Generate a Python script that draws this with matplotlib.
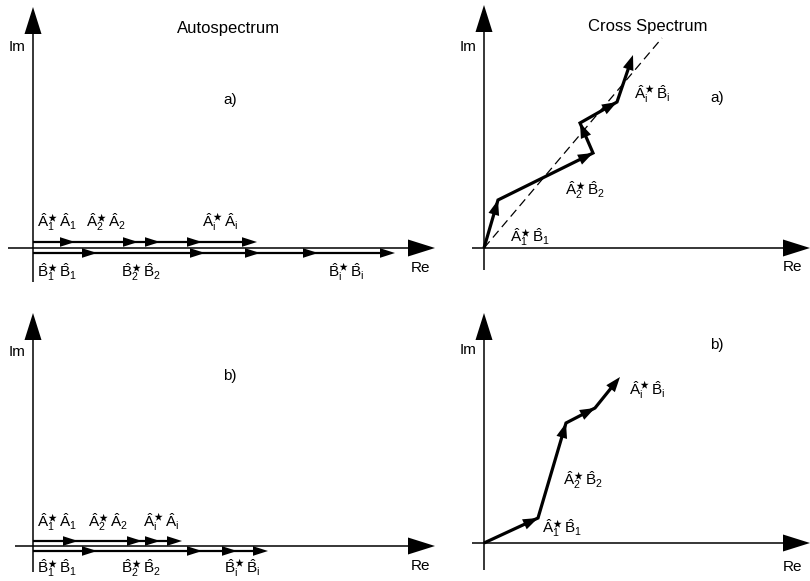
import numpy as np
import matplotlib
matplotlib.use("Agg")
import matplotlib.pyplot as plt

plt.rcParams['font.family'] = ['Liberation Sans', 'DejaVu Sans']
plt.rcParams['mathtext.fontset'] = 'custom'
plt.rcParams['mathtext.rm'] = 'Liberation Sans'
plt.rcParams['mathtext.it'] = 'Liberation Sans:italic'
plt.rcParams['mathtext.sf'] = 'Liberation Sans'

# autospectrum: successive lengths of the A*A and B*B contributions (all real)
auto_a_AA = [42, 63, 22, 42, 55]
auto_a_BB = [64, 108, 55, 58, 77]
auto_b_AA = [45, 64, 18, 22]
auto_b_BB = [64, 105, 35, 31]

# cross spectrum: successive A*B contributions (Re, Im)
cross_a_re = [14, 95, -13, 37, 16]
cross_a_im = [48, 47, 30, 21, 47]
cross_b_re = [54, 28, 29, 25]
cross_b_im = [25, 95, 15, 31]

# direction of the average phase (dashed line) in panel a)
phase_re, phase_im = 178, 210

W, H = 810, 581
fig = plt.figure(figsize=(W / 100, H / 100), dpi=100)
ax = fig.add_axes([0, 0, 1, 1])
ax.set_xlim(0, W)
ax.set_ylim(H, 0)
ax.axis('off')

fs = 11       # vector labels, axis names
fs_t = 12     # panel titles


def head(p0, p1, hl, hw):
    # filled triangle with its tip at p1, sizes in pixels (1 data unit = 1 px)
    p0 = np.asarray(p0, float)
    p1 = np.asarray(p1, float)
    d = p1 - p0
    u = d / np.hypot(*d)
    n = np.array([-u[1], u[0]])
    base = p1 - hl * u
    tri = np.array([p1, base + hw * n, base - hw * n])
    ax.fill(tri[:, 0], tri[:, 1], color='black', lw=0, zorder=3)
    return p1 - 0.5 * hl * u


def chain(pts, lw, hl, hw):
    # continuous polyline through the vertices, an arrow head at each vertex
    pts = np.asarray(pts, float)
    end = head(pts[-2], pts[-1], hl, hw)
    for i in range(1, len(pts) - 1):
        head(pts[i - 1], pts[i], hl, hw)
    line = np.vstack([pts[:-1], end])
    ax.plot(line[:, 0], line[:, 1], color='black', lw=lw,
            solid_capstyle='butt', solid_joinstyle='miter')


def axes_cross(ox, oy, x0, x1, ytop, ybot):
    # Re axis and Im axis with big arrow heads
    chain([(x0, oy), (x1, oy)], 1.1, 27, 8.5)
    chain([(ox, ybot), (ox, ytop)], 1.1, 27, 8.5)


def chain_real(ox, oy, lengths):
    xs = ox + np.concatenate([[0], np.cumsum(lengths)])
    chain([(x, oy) for x in xs], 1.6, 15, 4.8)


def chain_complex(ox, oy, re, im):
    xs = ox + np.concatenate([[0], np.cumsum(re)])
    ys = oy - np.concatenate([[0], np.cumsum(im)])
    chain(list(zip(xs, ys)), 2.3, 15, 5.5)


def lab(x, y, a, b, k):
    s = (r'$\hat{\mathrm{%s}}_{\mathrm{%s}}^{\bigstar}\,\hat{\mathrm{%s}}_{\mathrm{%s}}$'
         % (a, k, b, k))
    ax.text(x, y, s, ha='center', va='center', fontsize=fs)


# ---- Autospectrum a)
axes_cross(33, 248, 8, 435, 7, 282)
chain_real(33, 242, auto_a_AA)
chain_real(33, 253, auto_a_BB)
ax.text(229, 28, 'Autospectrum', ha='center', va='center', fontsize=fs_t)
ax.text(230, 100, 'a)', ha='center', va='center', fontsize=fs)
ax.text(17, 47, 'Im', ha='center', va='center', fontsize=fs)
ax.text(421, 268, 'Re', ha='center', va='center', fontsize=fs)
lab(57, 222, 'A', 'A', '1')
lab(106, 222, 'A', 'A', '2')
lab(220, 222, 'A', 'A', 'i')
lab(57, 272, 'B', 'B', '1')
lab(141, 272, 'B', 'B', '2')
lab(346, 272, 'B', 'B', 'i')

# ---- Autospectrum b)
axes_cross(33, 546, 15, 435, 313, 572)
chain_real(33, 541, auto_b_AA)
chain_real(33, 551, auto_b_BB)
ax.text(230, 376, 'b)', ha='center', va='center', fontsize=fs)
ax.text(17, 352, 'Im', ha='center', va='center', fontsize=fs)
ax.text(421, 566, 'Re', ha='center', va='center', fontsize=fs)
lab(57, 522, 'A', 'A', '1')
lab(108, 522, 'A', 'A', '2')
lab(161, 522, 'A', 'A', 'i')
lab(57, 568, 'B', 'B', '1')
lab(141, 568, 'B', 'B', '2')
lab(242, 568, 'B', 'B', 'i')

# ---- Cross spectrum a)
axes_cross(484, 248, 472, 810, 5, 270)
ax.plot([484, 484 + phase_re], [248, 248 - phase_im], ls=(0, (7, 4)), lw=0.9,
        color='black')
chain_complex(484, 248, cross_a_re, cross_a_im)
ax.text(648, 27, 'Cross Spectrum', ha='center', va='center', fontsize=fs_t)
ax.text(717, 98, 'a)', ha='center', va='center', fontsize=fs)
ax.text(468, 47, 'Im', ha='center', va='center', fontsize=fs)
ax.text(792, 267, 'Re', ha='center', va='center', fontsize=fs)
lab(530, 237, 'A', 'B', '1')
lab(585, 190, 'A', 'B', '2')
lab(652, 94, 'A', 'B', 'i')

# ---- Cross spectrum b)
axes_cross(484, 543, 472, 810, 313, 570)
chain_complex(484, 543, cross_b_re, cross_b_im)
ax.text(717, 345, 'b)', ha='center', va='center', fontsize=fs)
ax.text(468, 350, 'Im', ha='center', va='center', fontsize=fs)
ax.text(792, 567, 'Re', ha='center', va='center', fontsize=fs)
lab(562, 528, 'A', 'B', '1')
lab(583, 480, 'A', 'B', '2')
lab(647, 390, 'A', 'B', 'i')

fig.savefig('out.png', dpi=100, facecolor='white')
